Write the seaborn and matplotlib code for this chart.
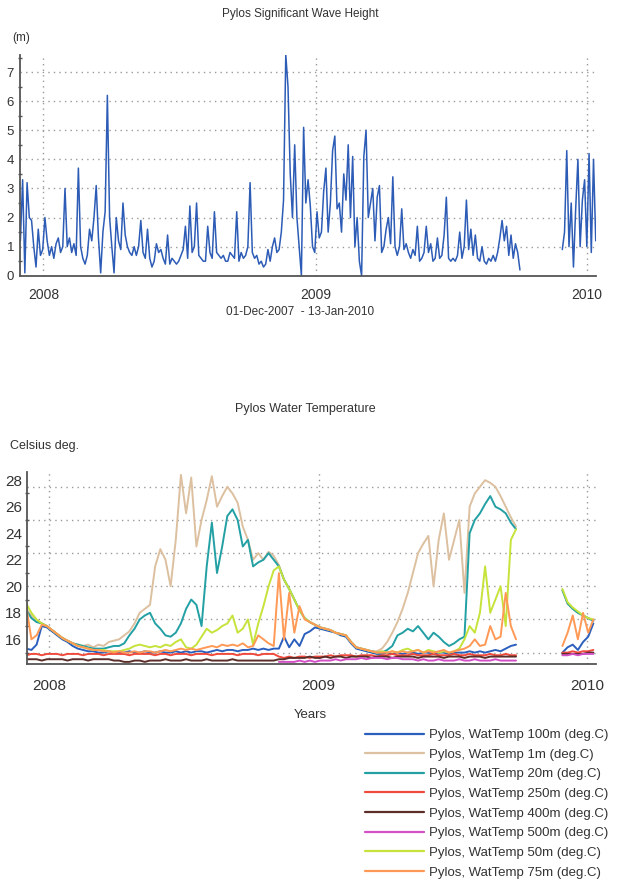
import numpy as np
import pandas as pd
import matplotlib
matplotlib.use("Agg")
import matplotlib.pyplot as plt
import matplotlib.dates as mdates
from matplotlib.lines import Line2D
from matplotlib.ticker import MultipleLocator
import seaborn as sns

nan = np.nan

# Significant wave height (m), every 3 days from 01-Dec-2007 up to the data gap
wave_pre = [
    1.2, 3.3, 0.1, 3.2, 2.0, 1.9, 1.0, 0.3, 1.6, 0.7,
    0.9, 2.0, 1.2, 0.7, 1.0, 0.6, 1.1, 1.3, 0.8, 1.0,
    3.0, 1.0, 1.3, 0.8, 1.1, 0.7, 3.7, 1.0, 0.6, 0.4,
    0.7, 1.6, 1.2, 2.0, 3.1, 1.3, 0.1, 1.5, 2.2, 6.2,
    2.0, 1.0, 0.1, 2.0, 1.2, 0.9, 2.5, 1.4, 1.0, 0.8,
    0.7, 1.0, 0.7, 1.0, 1.9, 0.8, 0.6, 1.6, 0.6, 0.3,
    0.5, 1.1, 0.8, 0.9, 0.6, 0.4, 1.4, 0.4, 0.6, 0.5,
    0.4, 0.5, 0.7, 0.9, 1.7, 0.6, 2.4, 0.8, 1.0, 2.5,
    0.7, 0.6, 0.5, 0.5, 1.7, 0.8, 0.6, 2.2, 0.8, 0.7,
    0.6, 0.7, 0.5, 0.5, 0.8, 0.7, 0.6, 2.2, 0.5, 0.8,
    0.6, 0.7, 1.0, 3.2, 0.8, 0.6, 0.7, 0.4, 0.5, 0.3,
    0.4, 0.9, 0.5, 1.0, 1.3, 0.8, 0.9, 1.5, 2.6, 7.6,
    6.5, 3.5, 2.0, 4.5, 2.0, 1.0, 0.0, 5.1, 2.5, 3.3,
    2.4, 1.0, 0.8, 2.2, 1.3, 1.5, 2.9, 3.7, 1.5, 2.5,
    4.3, 4.8, 2.3, 2.5, 1.5, 3.5, 2.6, 4.5, 2.0, 4.1,
    1.0, 2.0, 0.5, 0.0, 4.1, 5.0, 2.0, 2.5, 3.0, 1.2,
    2.7, 3.1, 0.8, 1.0, 1.6, 2.0, 1.1, 3.4, 1.0, 0.7,
    1.0, 2.3, 0.9, 1.1, 0.8, 0.6, 0.9, 0.7, 1.7, 0.5,
    0.6, 0.8, 1.7, 0.8, 1.1, 0.5, 0.6, 1.3, 0.6, 0.7,
    1.4, 2.7, 0.6, 0.5, 0.6, 0.5, 0.7, 1.5, 0.6, 1.0,
    2.6, 0.9, 1.6, 0.7, 1.4, 0.6, 0.5, 1.0, 0.5, 0.4,
    0.6, 0.5, 0.7, 0.5, 0.8, 1.3, 1.9, 1.2, 1.7, 0.7,
    1.4, 0.6, 1.1, 0.8, 0.2,
]
# after the gap, every 3 days from 29-Nov-2009
wave_post = [0.9, 1.5, 4.3, 1.0, 2.5, 0.3, 2.3, 4.0, 1.0, 2.6, 3.3, 1.0, 4.2, 0.8, 4.0, 1.2]

# Water temperature (deg C), weekly from 01-Dec-2007 (96 values), then weekly from 28-Nov-2009 (7 values)
series_names = [
    "Pylos, WatTemp 100m (deg.C)",
    "Pylos, WatTemp 1m (deg.C)",
    "Pylos, WatTemp 20m (deg.C)",
    "Pylos, WatTemp 250m (deg.C)",
    "Pylos, WatTemp 400m (deg.C)",
    "Pylos, WatTemp 500m (deg.C)",
    "Pylos, WatTemp 50m (deg.C)",
    "Pylos, WatTemp 75m (deg.C)",
]
series_colors = ["#2b5fbd", "#dcc0a0", "#22a0a4", "#f04a3c",
                 "#5c2e2a", "#d24fc6", "#c5e33a", "#ff9955"]

t100_pre = [
    15.3, 15.2, 15.6, 17.0, 16.9, 16.6, 16.3, 16.0, 15.8, 15.5,
    15.3, 15.2, 15.1, 15.1, 15.0, 15.0, 15.1, 15.0, 15.0, 15.0,
    15.1, 15.0, 15.0, 15.1, 15.0, 15.0, 15.1, 15.0, 15.0, 15.1,
    15.0, 15.1, 15.0, 15.1, 15.1, 15.0, 15.1, 15.2, 15.1, 15.2,
    15.2, 15.1, 15.2, 15.2, 15.3, 15.2, 15.3, 15.2, 15.3, 15.3,
    16.2, 15.4, 16.0, 15.5, 16.4, 16.6, 16.9, 16.8, 16.7, 16.6,
    16.5, 16.3, 16.2, 15.7, 15.3, 15.2, 15.1, 15.0, 14.9, 14.9,
    15.0, 14.9, 15.0, 14.9, 15.0, 15.0, 14.9, 15.0, 15.0, 14.9,
    15.0, 15.0, 14.9, 15.0, 15.0, 15.0, 15.1, 15.0, 15.1, 15.0,
    15.1, 15.2, 15.1, 15.3, 15.5, 15.6,
]
t100_post = [15.0, 15.4, 15.6, 15.2, 15.8, 16.2, 17.2]

t1_pre = [
    18.3, 17.8, 17.4, 17.2, 17.0, 16.7, 16.4, 16.1, 15.9, 15.7,
    15.6, 15.5, 15.6, 15.4, 15.6, 15.5, 15.8, 15.9, 16.0, 16.3,
    16.6, 17.2, 18.0, 18.3, 18.6, 21.5, 22.8, 22.0, 20.0, 23.5,
    28.4, 25.5, 28.2, 23.0, 25.0, 26.5, 28.3, 26.0, 26.8, 27.5,
    27.0, 26.3, 24.5, 23.5, 22.0, 22.5, 22.0, 22.6, 22.3, 21.6,
    20.5, 19.8, 19.0, 18.2, 17.6, 17.3, 17.1, 16.9, 16.8, 16.7,
    16.5, 16.4, 16.3, 15.8, 15.4, 15.3, 15.2, 15.1, 15.1, 15.3,
    15.8, 16.5, 17.3, 18.3, 19.5, 21.0, 22.5, 23.2, 23.8, 20.0,
    23.5, 25.5, 22.0, 23.5, 25.0, 19.5, 26.0, 27.0, 27.5, 28.0,
    27.8, 27.5, 26.8, 26.0, 25.2, 24.5,
]
t1_post = [19.7, 18.7, 18.3, 18.0, 17.8, 17.6, 17.4]

t20_pre = [
    18.2, 17.6, 17.3, 17.2, 17.0, 16.7, 16.4, 16.1, 15.9, 15.7,
    15.6, 15.5, 15.4, 15.3, 15.3, 15.3, 15.4, 15.5, 15.5, 15.7,
    16.3, 16.8, 17.5, 17.8, 18.0, 17.2, 16.8, 16.3, 16.2, 16.5,
    17.2, 18.3, 19.0, 18.6, 17.0, 21.5, 24.8, 21.0, 23.0, 25.3,
    25.8, 25.0, 23.0, 23.5, 21.5, 21.8, 22.0, 22.5, 22.0, 21.5,
    20.5, 19.8, 19.0, 18.2, 17.6, 17.3, 17.1, 16.9, 16.8, 16.7,
    16.5, 16.4, 16.3, 15.8, 15.4, 15.3, 15.2, 15.1, 15.0, 15.0,
    15.2, 15.5, 16.3, 16.5, 16.8, 16.6, 17.0, 16.5, 16.0, 16.5,
    16.2, 15.8, 15.5, 15.7, 16.0, 16.2, 24.0, 25.0, 25.5, 26.2,
    26.8, 26.0, 25.8, 25.5, 24.8, 24.3,
]
t20_post = [19.7, 18.7, 18.3, 18.0, 17.8, 17.6, 17.4]

t250_pre = [
    14.8, 14.9, 14.9, 14.8, 14.9, 14.9, 14.9, 14.8, 14.9, 14.9,
    14.9, 14.8, 14.9, 14.9, 14.9, 14.8, 14.9, 14.9, 14.9, 14.9,
    14.8, 14.9, 14.9, 14.9, 14.9, 14.8, 14.9, 14.9, 14.8, 14.9,
    14.9, 14.9, 14.8, 14.9, 14.9, 14.9, 14.8, 14.9, 14.9, 14.9,
    14.9, 14.8, 14.9, 14.9, 14.9, 14.8, 14.9, 14.9, 14.9, 14.7,
    14.6, 14.7, 14.6, 14.7, 14.7, 14.6, 14.7, 14.7, 14.7, 14.8,
    14.7, 14.8, 14.8, 14.8, 14.7, 14.8, 14.8, 14.8, 14.7, 14.8,
    14.8, 14.9, 14.8, 14.8, 14.8, 14.9, 14.8, 14.8, 14.8, 14.9,
    14.8, 14.8, 14.8, 14.9, 14.8, 14.8, 14.9, 14.8, 14.8, 14.8,
    14.9, 14.8, 14.8, 14.9, 14.8, 14.8,
]
t250_post = [15.0, 15.0, 15.1, 15.0, 15.1, 15.1, 15.2]

t400_pre = [
    14.5, 14.5, 14.5, 14.4, 14.5, 14.5, 14.5, 14.5, 14.4, 14.5,
    14.5, 14.5, 14.4, 14.5, 14.5, 14.5, 14.5, 14.4, 14.4, 14.3,
    14.3, 14.4, 14.4, 14.3, 14.4, 14.4, 14.4, 14.5, 14.4, 14.4,
    14.4, 14.5, 14.4, 14.4, 14.4, 14.5, 14.4, 14.4, 14.4, 14.4,
    14.5, 14.4, 14.4, 14.4, 14.4, 14.4, 14.4, 14.4, 14.4, 14.5,
    14.5, 14.6, 14.6, 14.6, 14.6, 14.7, 14.6, 14.6, 14.7, 14.6,
    14.7, 14.7, 14.6, 14.7, 14.7, 14.7, 14.7, 14.6, 14.7, 14.7,
    14.7, 14.6, 14.7, 14.7, 14.7, 14.7, 14.6, 14.7, 14.7, 14.7,
    14.7, 14.6, 14.7, 14.7, 14.7, 14.6, 14.7, 14.7, 14.7, 14.6,
    14.7, 14.7, 14.7, 14.7, 14.7, 14.7,
]
t400_post = [14.9, 14.9, 14.9, 14.9, 14.9, 15.0, 15.0]

t500_pre = [
    nan, nan, nan, nan, nan, nan, nan, nan, nan, nan,
    nan, nan, nan, nan, nan, nan, nan, nan, nan, nan,
    nan, nan, nan, nan, nan, nan, nan, nan, nan, nan,
    nan, nan, nan, nan, nan, nan, nan, nan, nan, nan,
    nan, nan, nan, nan, nan, nan, nan, nan, nan, 14.3,
    14.3, 14.3, 14.3, 14.4, 14.3, 14.4, 14.3, 14.4, 14.4, 14.4,
    14.5, 14.4, 14.5, 14.5, 14.5, 14.6, 14.5, 14.6, 14.6, 14.6,
    14.5, 14.6, 14.6, 14.5, 14.5, 14.5, 14.4, 14.5, 14.4, 14.4,
    14.5, 14.4, 14.4, 14.4, 14.5, 14.4, 14.4, 14.5, 14.4, 14.4,
    14.4, 14.5, 14.4, 14.4, 14.4, 14.4,
]
t500_post = [14.8, 14.8, 14.9, 14.8, 14.9, 14.9, 14.9]

t50_pre = [
    18.7, 18.0, 17.5, 17.2, 17.0, 16.7, 16.4, 16.1, 15.9, 15.7,
    15.5, 15.4, 15.3, 15.2, 15.2, 15.2, 15.1, 15.1, 15.1, 15.2,
    15.3, 15.5, 15.6, 15.5, 15.4, 15.5, 15.4, 15.6, 15.5, 15.8,
    16.0, 15.4, 15.3, 15.6, 16.2, 16.8, 16.5, 16.7, 17.0, 17.2,
    17.8, 16.5, 16.8, 17.5, 15.6, 17.2, 18.5, 20.0, 21.2, 21.5,
    20.5, 19.8, 19.0, 18.2, 17.6, 17.3, 17.1, 16.9, 16.8, 16.7,
    16.5, 16.4, 16.3, 15.8, 15.4, 15.3, 15.2, 15.1, 15.0, 15.1,
    15.0, 15.1, 15.0, 15.2, 15.3, 15.1, 15.2, 15.0, 15.2, 15.1,
    15.0, 15.1, 15.0, 15.1, 15.3, 16.0, 17.0, 16.5, 18.0, 21.5,
    18.0, 19.0, 20.0, 17.0, 23.5, 24.3,
]
t50_post = [19.8, 18.8, 18.4, 18.1, 17.8, 17.6, 17.5]

t75_pre = [
    18.5, 16.0, 16.3, 17.1, 17.0, 16.7, 16.4, 16.1, 15.9, 15.7,
    15.5, 15.4, 15.3, 15.2, 15.2, 15.1, 15.1, 15.0, 15.1, 15.0,
    15.0, 15.1, 15.0, 15.1, 15.1, 15.0, 15.1, 15.2, 15.1, 15.2,
    15.3, 15.2, 15.3, 15.2, 15.3, 15.4, 15.5, 15.4, 15.6, 15.5,
    15.6, 15.5, 15.7, 15.4, 15.5, 16.3, 16.0, 15.7, 15.5, 21.0,
    16.0, 19.5, 16.5, 18.5, 17.5, 17.3, 17.1, 16.9, 16.8, 16.7,
    16.5, 16.4, 16.3, 15.8, 15.4, 15.3, 15.2, 15.1, 15.0, 15.0,
    15.0, 15.1, 15.0, 15.1, 15.0, 15.1, 15.2, 15.0, 15.1, 15.0,
    15.1, 15.2, 15.0, 15.1, 15.2, 15.3, 15.5, 16.0, 15.5, 15.6,
    17.0, 16.0, 16.2, 19.5, 17.0, 16.0,
]
t75_post = [15.5, 16.5, 17.8, 16.0, 18.0, 16.5, 17.5]

temp_pre = [t100_pre, t1_pre, t20_pre, t250_pre, t400_pre, t500_pre, t50_pre, t75_pre]
temp_post = [t100_post, t1_post, t20_post, t250_post, t400_post, t500_post, t50_post, t75_post]

# ---- build long tables ----
df_wave = pd.concat([
    pd.DataFrame({"date": pd.date_range("2007-12-01", periods=len(wave_pre), freq="3D"),
                  "value": wave_pre, "seg": 0}),
    pd.DataFrame({"date": pd.date_range("2009-11-29", periods=len(wave_post), freq="3D"),
                  "value": wave_post, "seg": 1}),
], ignore_index=True)

frames = []
for name, pre, post in zip(series_names, temp_pre, temp_post):
    frames.append(pd.DataFrame({"date": pd.date_range("2007-12-01", periods=len(pre), freq="7D"),
                                "value": pre, "series": name, "seg": 0}))
    frames.append(pd.DataFrame({"date": pd.date_range("2009-11-28", periods=len(post), freq="7D"),
                                "value": post, "series": name, "seg": 1}))
df_temp = pd.concat(frames, ignore_index=True).dropna()

# ---- style ----
sns.set_theme(style="white")
plt.rcParams["font.family"] = ["Liberation Sans", "DejaVu Sans"]
text_col = "#333333"
spine_col = "#555555"
grid_kw = dict(color="#9a9a9a", linestyle=(0, (1, 3)), linewidth=1.0)

fig = plt.figure(figsize=(6.18, 8.81), dpi=100)
ax1 = fig.add_axes([0.0330, 0.687, 0.931, 0.251])
ax2 = fig.add_axes([0.0437, 0.246, 0.920, 0.218])


def style_axis(ax, x0, x1):
    for s in ["top", "right"]:
        ax.spines[s].set_visible(False)
    for s in ["left", "bottom"]:
        ax.spines[s].set_color(spine_col)
        ax.spines[s].set_linewidth(1.3)
    ax.xaxis.set_major_locator(mdates.YearLocator())
    ax.xaxis.set_major_formatter(mdates.DateFormatter("%Y"))
    ax.tick_params(axis="both", which="major", direction="inout", length=5,
                   color=spine_col, labelcolor=text_col, pad=2)
    ax.tick_params(axis="y", which="minor", direction="inout", length=3,
                   color=spine_col, left=True)
    ax.tick_params(axis="x", labelsize=10, pad=6)
    ax.set_xlim(pd.Timestamp(x0), pd.Timestamp(x1))
    ax.set_xlabel("")
    ax.set_ylabel("")


# ---- wave height ----
sns.lineplot(data=df_wave, x="date", y="value", units="seg", estimator=None,
             color="#2d5cb6", linewidth=1.1, ax=ax1)
style_axis(ax1, "2007-12-01", "2010-01-13")
ax1.set_ylim(0, 7.6)
ax1.set_yticks(range(0, 8))
ax1.yaxis.set_minor_locator(MultipleLocator(0.5))
ax1.tick_params(axis="y", labelsize=9.5)
ax1.grid(True, which="major", **grid_kw)
ax1.set_axisbelow(True)
fig.text(0.486, 0.984, "Pylos Significant Wave Height", ha="center", va="center",
         fontsize=8.5, color=text_col)
fig.text(0.020, 0.957, "(m)", ha="left", va="center", fontsize=8.5, color=text_col)
fig.text(0.486, 0.646, "01-Dec-2007  - 13-Jan-2010", ha="center", va="center",
         fontsize=8.5, color=text_col)

# ---- water temperature ----
sns.lineplot(data=df_temp, x="date", y="value", hue="series", hue_order=series_names,
             palette=series_colors, units="seg", estimator=None, linewidth=1.4,
             legend=False, ax=ax2)
style_axis(ax2, "2007-12-02", "2010-01-12")
ax2.set_ylim(14.12, 28.6)
ax2.set_yticks(range(16, 29, 2))
ax2.yaxis.set_minor_locator(MultipleLocator(1))
ax2.tick_params(axis="y", labelsize=11, pad=1)
ax2.tick_params(axis="x", labelsize=11, pad=8)
for v in [15, 17.5, 20, 22.5, 25, 27.5]:
    ax2.axhline(v, zorder=0, **grid_kw)
for yr in [2008, 2009, 2010]:
    ax2.axvline(pd.Timestamp(f"{yr}-01-01"), zorder=0, **grid_kw)
fig.text(0.494, 0.536, "Pylos Water Temperature", ha="center", va="center",
         fontsize=9, color=text_col)
fig.text(0.016, 0.494, "Celsius deg.", ha="left", va="center", fontsize=9, color=text_col)
fig.text(0.502, 0.188, "Years", ha="center", va="center", fontsize=9.5, color=text_col)

handles = [Line2D([0], [0], color=c, linewidth=1.6) for c in series_colors]
fig.legend(handles, series_names, loc="upper left", bbox_to_anchor=(0.590, 0.1726),
           frameon=False, fontsize=9.5, handlelength=4.5, handletextpad=0.4,
           labelspacing=0.56, borderpad=0, borderaxespad=0, labelcolor=text_col)

fig.savefig("out.png", dpi=100, facecolor="white")
